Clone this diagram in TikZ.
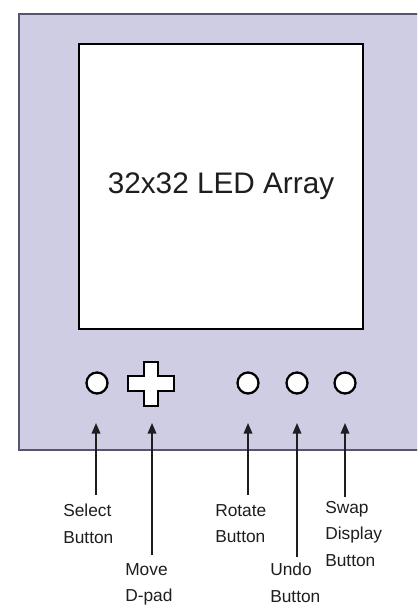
\documentclass[tikz,border=0pt]{standalone}
\usepackage{fontspec}
\setmainfont{Liberation Sans}
\usetikzlibrary{arrows.meta}
\definecolor{panel}{HTML}{CFCDE4}
\definecolor{panelborder}{HTML}{55556E}
\definecolor{ink}{HTML}{1E1E1E}
\tikzset{
  btn/.style={circle, draw=black, line width=1.7pt, fill=white, minimum size=15.75pt, inner sep=0pt},
  dpadshape/.style={draw=black, line width=1.8pt, fill=white, line join=miter},
  arr/.style={draw=ink, line width=1.1pt, -{Triangle[length=8pt,width=6.5pt]}},
  lbl/.style={anchor=north west, inner sep=0pt, align=left, text=ink, font=\fontsize{13}{19.9}\selectfont},
}
\begin{document}
\begin{tikzpicture}[x=0.75pt,y=-0.75pt]
\useasboundingbox (0,0) rectangle (417,605);
\clip (0,0) rectangle (417,605);
\fill[white] (0,0) rectangle (417,605);
% device body
\draw[panelborder, fill=panel, line width=1.6pt] (19,14) rectangle (440,450);
% LED array
\node[draw=black, line width=2.2pt, fill=white, minimum width=213pt, minimum height=213.75pt,
      inner sep=0pt, text=ink, font=\fontsize{22.3}{26}\selectfont] (led) at (221,186.5) {32x32 LED Array};
% buttons
\node[btn] (sel) at (97,383) {};
\node[btn] (rot) at (248,383) {};
\node[btn] (undo) at (297,383) {};
\node[btn] (swap) at (345,383) {};
% D-pad
\draw[dpadshape] (144,362) -- (158,362) -- (158,376) -- (174,376) -- (174,391) -- (158,391)
  -- (158,406) -- (144,406) -- (144,391) -- (128,391) -- (128,376) -- (144,376) -- cycle;
\coordinate (dpad) at (151,384);
% labels
\node[lbl] (selL) at (63,504) {Select\\Button};
\node[lbl] (moveL) at (125,563) {Move\\D-pad};
\node[lbl] (rotL) at (215,504) {Rotate\\Button};
\node[lbl] (undoL) at (270,563) {Undo\\Button};
\node[lbl] (swapL) at (325,501) {Swap\\Display\\Button};
% arrow ends
\coordinate (selTip) at (96,423);   \coordinate (selEnd) at (96,495);
\coordinate (dpadTip) at (152,423); \coordinate (dpadEnd) at (152,555);
\coordinate (rotTip) at (248,423);  \coordinate (rotEnd) at (248,495);
\coordinate (undoTip) at (297,423); \coordinate (undoEnd) at (297,557);
\coordinate (swapTip) at (345,423); \coordinate (swapEnd) at (345,497);
\draw[arr] (selEnd) -- (selTip);
\draw[arr] (dpadEnd) -- (dpadTip);
\draw[arr] (rotEnd) -- (rotTip);
\draw[arr] (undoEnd) -- (undoTip);
\draw[arr] (swapEnd) -- (swapTip);
\end{tikzpicture}
\end{document}
